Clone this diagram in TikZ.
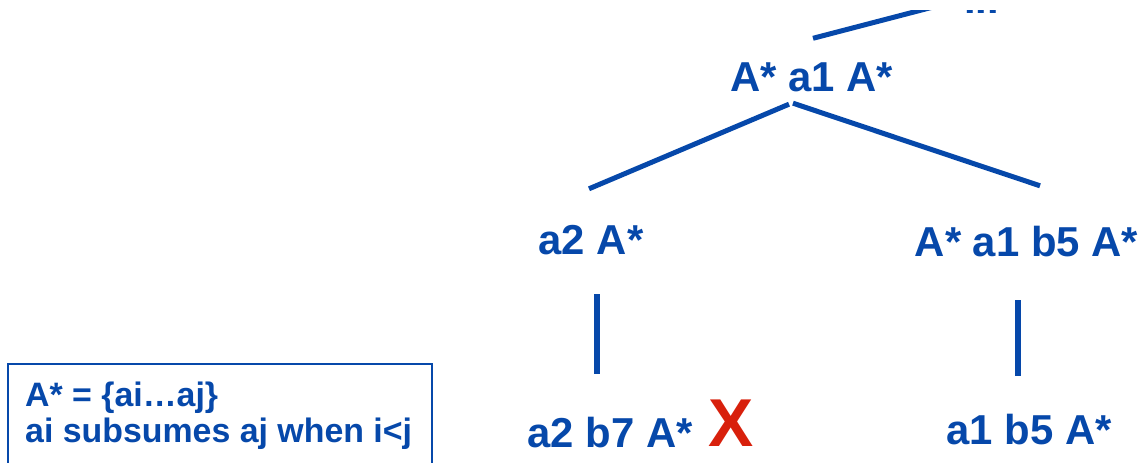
\documentclass[tikz,border=0pt]{standalone}
\usepackage{fontspec}
\setmainfont{Liberation Sans}
\usepackage{xcolor}
\usepackage{tikz}
\usetikzlibrary{positioning}
\definecolor{treeblue}{HTML}{0648AA}
\definecolor{crossred}{HTML}{D8200C}

\begin{document}
\begin{tikzpicture}[
    x=1bp, y=-1bp,
    term/.style={inner sep=0pt, anchor=base, text height=30bp, text depth=0pt, text=treeblue, font=\fontsize{42}{48}\selectfont\bfseries},
    note/.style={inner sep=0pt, anchor=base west, text=treeblue, font=\fontsize{34}{36}\selectfont\bfseries},
    branch/.style={draw=treeblue, line width=5bp}
]
    \useasboundingbox (0,0) rectangle (1145,463);
    \clip (0,11) rectangle (1145,480);

    \node[term] (dots) at (981.5,14) {...};
    \node[term] (root) at (811.5,92) {A* a1 A*};
    \node[term] (a2) at (591,255) {a2 A*};
    \node[term] (rootb5) at (1026.5,257) {A* a1 b5 A*};
    \node[term] (a2b7) at (610,448) {a2 b7 A*};
    \node[term, text=crossred, text height=50bp, font=\fontsize{68}{72}\selectfont\bfseries] (cross) at (731,447) {X};
    \node[term] (a1b5) at (1029,445) {a1 b5 A*};
    \coordinate (up) at (960,0);

    \draw[treeblue, line width=1.5bp] (8,364) rectangle (432,480);
    \node[note] (defA) at (25,407) {A* = \{ai…aj\}};
    \node[note] (defB) at (25,443) {ai subsumes aj when i<j};

    \draw[branch] ([shift={(1.5,-23.5)}]root.north) -- (up);
    \draw[branch] ([shift={(-22.5,12)}]root.south) -- ([shift={(-2,-36)}]a2.north);
    \draw[branch] ([shift={(-18.5,11)}]root.south) -- ([shift={(13.5,-41)}]rootb5.north);
    \draw[branch, line width=6bp] ([shift={(6,39)}]a2.south) -- ([shift={(-13,-44)}]a2b7.north);
    \draw[branch, line width=6bp] ([shift={(-8.5,43)}]rootb5.south) -- ([shift={(-11,-39)}]a1b5.north);
\end{tikzpicture}
\end{document}
